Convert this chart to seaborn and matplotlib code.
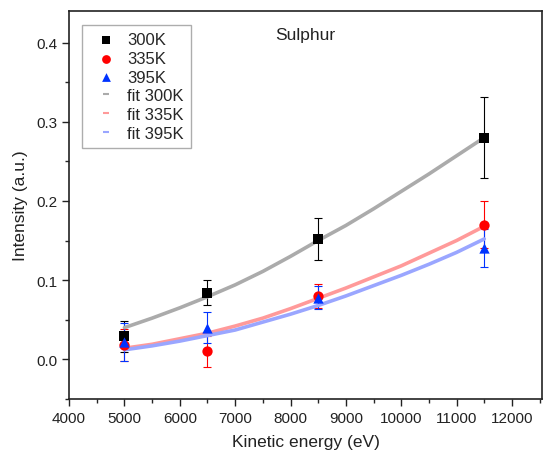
import numpy as np
import pandas as pd
import matplotlib
matplotlib.use("Agg")
import matplotlib.pyplot as plt
from matplotlib.lines import Line2D
import seaborn as sns

sns.set_style("ticks")
plt.rcParams["font.family"] = ["Liberation Sans", "DejaVu Sans"]

# Measured points
energy = [5000, 6500, 8500, 11500]
i_300 = [0.029, 0.084, 0.152, 0.280]
e_300 = [0.020, 0.016, 0.027, 0.051]
i_335 = [0.018, 0.010, 0.080, 0.170]
e_335 = [0.020, 0.020, 0.015, 0.030]
i_395 = [0.022, 0.040, 0.078, 0.140]
e_395 = [0.024, 0.020, 0.015, 0.024]

# Fitted curves
fit_energy = [5000, 5500, 6000, 6500, 7000, 7500, 8000, 8500, 9000, 9500,
              10000, 10500, 11000, 11500]
fit_300 = [0.040, 0.052, 0.065, 0.079, 0.094, 0.111, 0.130, 0.150, 0.169,
           0.190, 0.212, 0.234, 0.257, 0.280]
fit_335 = [0.014, 0.019, 0.026, 0.033, 0.042, 0.052, 0.064, 0.077, 0.090,
           0.104, 0.118, 0.134, 0.150, 0.168]
fit_395 = [0.012, 0.017, 0.023, 0.030, 0.037, 0.047, 0.057, 0.068, 0.080,
           0.093, 0.106, 0.120, 0.135, 0.152]

series = [
    ("300K", i_300, e_300, "black", "s", fit_300, "#ababab"),
    ("335K", i_335, e_335, "red", "o", fit_335, "#ff9a9a"),
    ("395K", i_395, e_395, "#0033ff", "^", fit_395, "#9aa6ff"),
]

fig = plt.figure(figsize=(5.44, 4.56), dpi=100)
ax = fig.add_axes([0.127, 0.123, 0.869, 0.851])

for name, y, err, col, mk, fy, fcol in series:
    ax.errorbar(energy, y, yerr=err, fmt="none", ecolor=col, elinewidth=0.8,
                capsize=3, capthick=0.8, zorder=2)

for name, y, err, col, mk, fy, fcol in series:
    df = pd.DataFrame({"E": energy, "I": y})
    sns.scatterplot(data=df, x="E", y="I", marker=mk, color=col, s=55,
                    edgecolor=col, linewidth=0, ax=ax, zorder=4, label=name)

for name, y, err, col, mk, fy, fcol in series:
    df = pd.DataFrame({"E": fit_energy, "I": fy})
    sns.lineplot(data=df, x="E", y="I", color=fcol, lw=2.6, ax=ax, zorder=3,
                 label="fit " + name)

ax.set_xlim(4000, 12540)
ax.set_ylim(-0.05, 0.44)
ax.set_xticks(np.arange(4000, 12001, 1000))
ax.set_yticks([0.0, 0.1, 0.2, 0.3, 0.4])
ax.set_xticks(np.arange(4500, 12600, 1000), minor=True)
ax.set_yticks([-0.05, 0.05, 0.15, 0.25, 0.35], minor=True)
ax.tick_params(which="major", direction="out", length=5, width=1, labelsize=11,
               colors="#222222")
ax.tick_params(which="minor", direction="out", length=3, width=1)
for sp in ax.spines.values():
    sp.set_linewidth(1.2)
    sp.set_color("#222222")

ax.set_xlabel("Kinetic energy (eV)", fontsize=12.5, color="#222222", labelpad=7)
ax.set_ylabel("Intensity (a.u.)", fontsize=12.5, color="#222222", labelpad=6)

ax.text(0.435, 0.938, "Sulphur", transform=ax.transAxes, fontsize=12.5,
        color="#222222", va="center")

# legend: point markers, then short dashes for the fitted curves
handles, labels = ax.get_legend_handles_labels()
fit_colors = {"fit " + s[0]: s[6] for s in series}
new_handles = []
for h, lab in zip(handles, labels):
    if lab in fit_colors:
        new_handles.append(Line2D([], [], ls="none", marker="_", ms=5, mew=1.5,
                                  color=fit_colors[lab]))
    else:
        new_handles.append(h)

leg = ax.legend(new_handles, labels, loc="upper left",
                bbox_to_anchor=(0.027, 0.964), borderaxespad=0, fontsize=12,
                frameon=True, fancybox=False, handlelength=2.0,
                handletextpad=0.25, labelspacing=0.22, borderpad=0.45,
                markerscale=0.85)
leg.get_frame().set_edgecolor("#999999")
leg.get_frame().set_linewidth(1.0)

fig.savefig("out.png", dpi=100)
